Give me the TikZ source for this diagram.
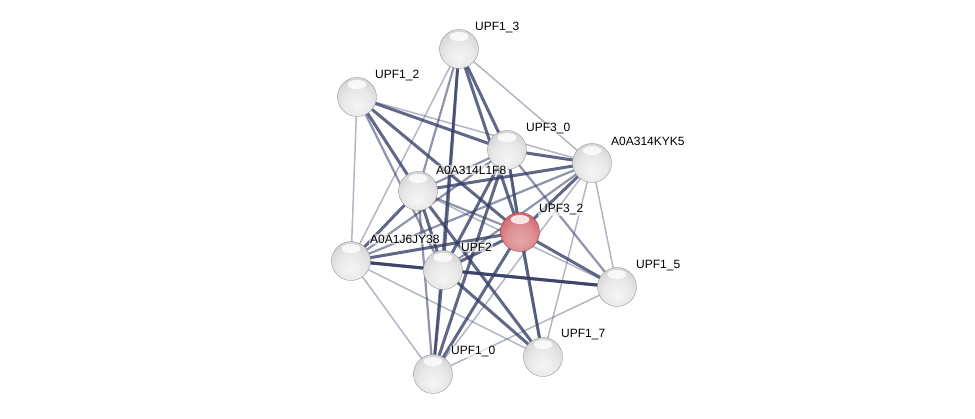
\documentclass[tikz,border=0pt]{standalone}
\usepackage{fontspec}
\setmainfont{Liberation Sans}
\definecolor{qred}{RGB}{205,95,100}
\pgfdeclareradialshading{greysphere}{\pgfpoint{0bp}{-12bp}}{color(0bp)=(white!96!black); color(18bp)=(white!91!black); color(32bp)=(white!82!black); color(44bp)=(white!66!black); color(50bp)=(white!50!black)}
\pgfdeclareradialshading{redsphere}{\pgfpoint{0bp}{-12bp}}{color(0bp)=(qred!55!white); color(18bp)=(qred!70!white); color(32bp)=(qred); color(44bp)=(qred!80!black); color(50bp)=(qred!60!black)}
\begin{document}
\begin{tikzpicture}[x=1pt,y=-1pt,
  edgecol/.style={draw={rgb,255:red,52;green,60;blue,100}},
  ethick/.style={edgecol,line width=3pt,draw opacity=0.78},
  emed/.style={edgecol,line width=2.2pt,draw opacity=0.55},
  elight/.style={edgecol,line width=1.5pt,draw opacity=0.38},
  protein/.style={circle,minimum size=39pt,inner sep=0pt,shading=greysphere,draw=white!55!black,line width=0.3pt},
  query/.style={protein,shading=redsphere,draw={rgb,255:red,140;green,45;blue,50}},
  shine/.style={fill=white,fill opacity=0.8},
  lab/.style={anchor=west,font=\fontsize{12}{14}\selectfont,fill=white,fill opacity=0.6,text opacity=1,inner sep=1pt}]
\useasboundingbox (0,0) rectangle (975,419);
\coordinate (pU13) at (459,49);
\coordinate (pU12) at (357,97);
\coordinate (pU30) at (507,150);
\coordinate (pKYK) at (592,163);
\coordinate (pL1F) at (418,191);
\coordinate (pU32) at (520,232);
\coordinate (pJY) at (351,261);
\coordinate (pU2) at (443,270);
\coordinate (pU15) at (617,287);
\coordinate (pU17) at (543,357);
\coordinate (pU10) at (433,374);
% edges
\draw[elight] (pU13) -- (pJY);
\draw[emed] (pU13) -- (pL1F);
\draw[ethick] (pU13) -- (pU2);
\draw[emed] (pU13) -- (pU10);
\draw[ethick] (pU13) -- (pU30);
\draw[ethick] (pU13) -- (pU32);
\draw[elight] (pU13) -- (pKYK);
\draw[elight] (pU12) -- (pJY);
\draw[ethick] (pU12) -- (pL1F);
\draw[emed] (pU12) -- (pU2);
\draw[ethick] (pU12) -- (pU32);
\draw[ethick] (pU12) -- (pU30);
\draw[elight] (pU12) -- (pKYK);
\draw[ethick] (pU30) -- (pKYK);
\draw[emed] (pU30) -- (pL1F);
\draw[ethick] (pU30) -- (pU32);
\draw[emed] (pU30) -- (pJY);
\draw[ethick] (pU30) -- (pU2);
\draw[ethick] (pU30) -- (pU10);
\draw[emed] (pU30) -- (pU15);
\draw[elight] (pU30) -- (pU17);
\draw[ethick] (pKYK) -- (pL1F);
\draw[ethick] (pKYK) -- (pU32);
\draw[emed] (pKYK) -- (pJY);
\draw[emed] (pKYK) -- (pU2);
\draw[elight] (pKYK) -- (pU15);
\draw[elight] (pKYK) -- (pU17);
\draw[elight] (pKYK) -- (pU10);
\draw[emed] (pL1F) -- (pU32);
\draw[ethick] (pL1F) -- (pJY);
\draw[ethick] (pL1F) -- (pU2);
\draw[emed] (pL1F) -- (pU10);
\draw[ethick] (pL1F) -- (pU17);
\draw[elight] (pL1F) -- (pU15);
\draw[ethick] (pU32) -- (pJY);
\draw[ethick] (pU32) -- (pU2);
\draw[ethick] (pU32) -- (pU15);
\draw[ethick] (pU32) -- (pU17);
\draw[ethick] (pU32) -- (pU10);
\draw[ethick] (pJY) -- (pU2);
\draw[ethick] (pJY) -- (pU15);
\draw[elight] (pJY) -- (pU10);
\draw[elight] (pJY) -- (pU17);
\draw[ethick] (pU2) -- (pU15);
\draw[ethick] (pU2) -- (pU17);
\draw[ethick] (pU2) -- (pU10);
\draw[elight] (pU10) -- (pU15);
% nodes
\node[protein] (U13) at (pU13) {};
\node[protein] (U12) at (pU12) {};
\node[protein] (U30) at (pU30) {};
\node[protein] (KYK) at (pKYK) {};
\node[protein] (L1F) at (pL1F) {};
\node[query] (U32) at (pU32) {};
\node[protein] (JY) at (pJY) {};
\node[protein] (U2) at (pU2) {};
\node[protein] (U15) at (pU15) {};
\node[protein] (U17) at (pU17) {};
\node[protein] (U10) at (pU10) {};
\foreach \n in {U13,U12,U30,KYK,L1F,U32,JY,U2,U15,U17,U10}{
  \fill[shine] ([yshift=12.5]\n.center) ellipse (9.5 and 4.5);
}
% labels
\node[lab] (tU13) at ([shift={(15,-21)}]pU13) {UPF1\_3};
\node[lab] (tU12) at ([shift={(17,-21)}]pU12) {UPF1\_2};
\node[lab] (tU30) at ([shift={(18,-21)}]pU30) {UPF3\_0};
\node[lab] (tKYK) at ([shift={(18,-22)}]pKYK) {A0A314KYK5};
\node[lab] (tL1F) at ([shift={(17,-21)}]pL1F) {A0A314L1F8};
\node[lab] (tU32) at ([shift={(18,-22)}]pU32) {UPF3\_2};
\node[lab] (tJY) at ([shift={(18,-22)}]pJY) {A0A1J6JY38};
\node[lab] (tU2) at ([shift={(17,-23)}]pU2) {UPF2};
\node[lab] (tU15) at ([shift={(18,-21)}]pU15) {UPF1\_5};
\node[lab] (tU17) at ([shift={(17,-22)}]pU17) {UPF1\_7};
\node[lab] (tU10) at ([shift={(17,-22)}]pU10) {UPF1\_0};
\end{tikzpicture}
\end{document}
